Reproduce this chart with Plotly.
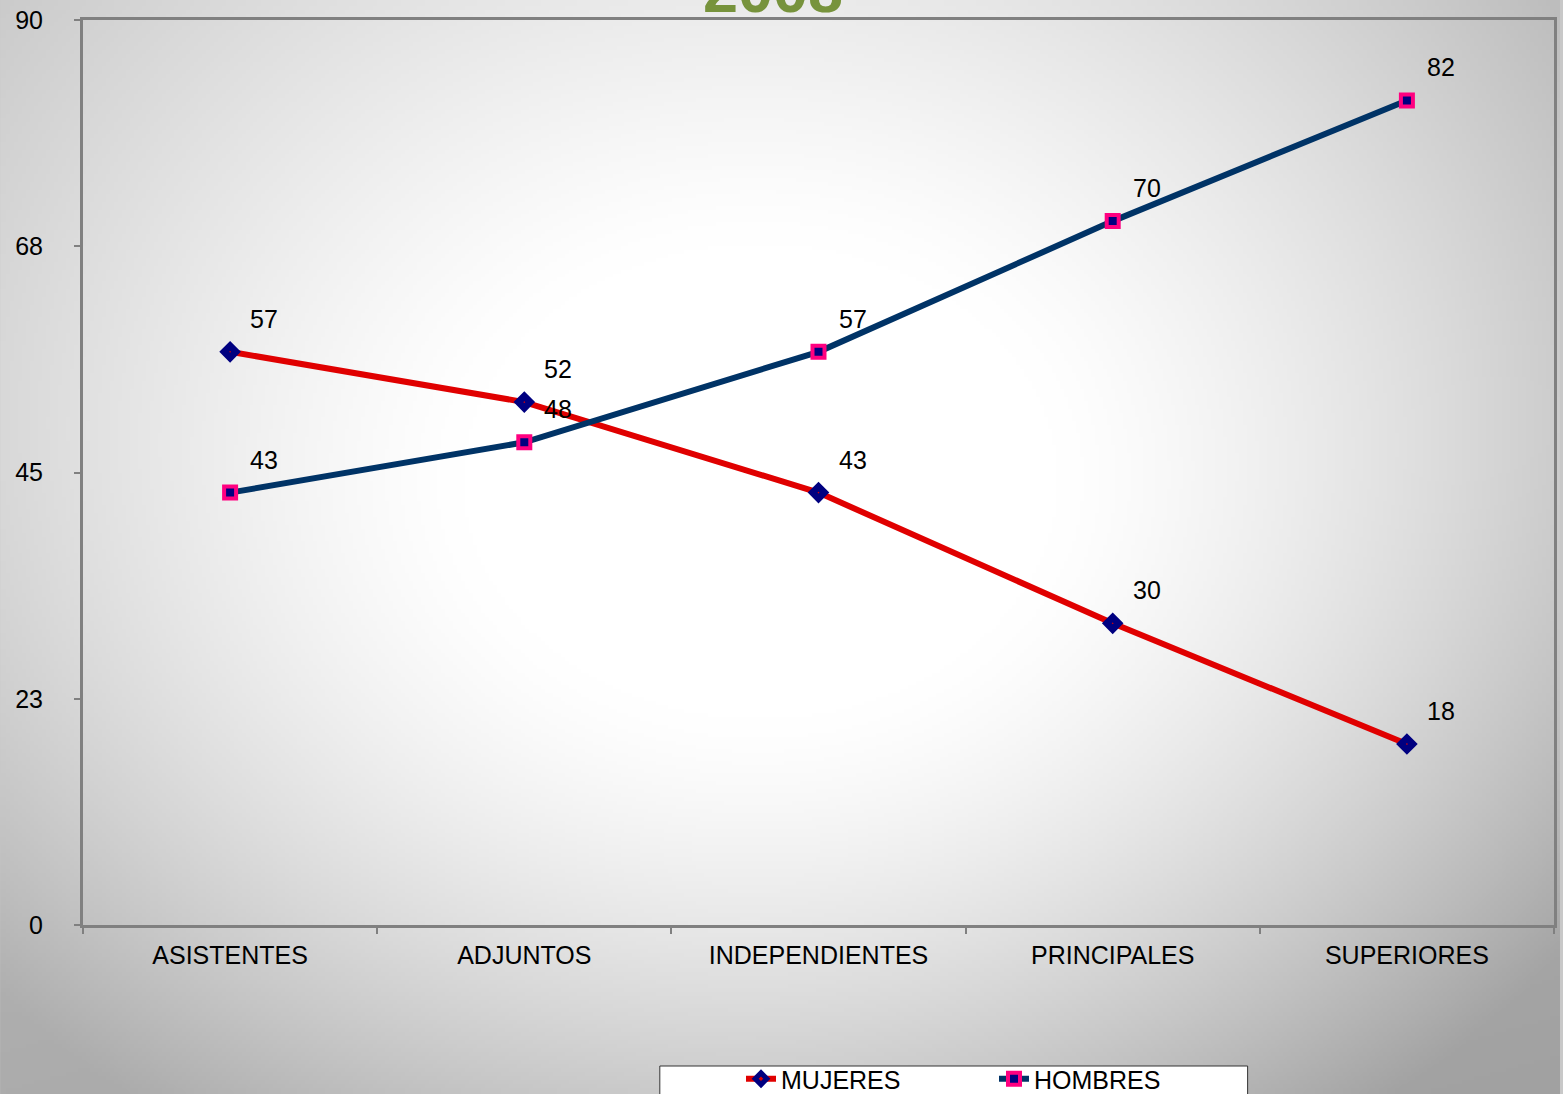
import zlib, struct, base64
import numpy as np
import plotly.graph_objects as go

categories = ["ASISTENTES", "ADJUNTOS", "INDEPENDIENTES", "PRINCIPALES", "SUPERIORES"]
mujeres = [57, 52, 43, 30, 18]
hombres = [43, 48, 57, 70, 82]
ytick_vals = [0, 22.5, 45, 67.5, 90]
ytick_text = ["0", "23", "45", "68", "90"]
title_text = "2008"

W, H = 1563, 1094
ML, MR, MT, MB = 83, 6, 20, 169
PW, PH = W - ML - MR, H - MT - MB

# radial gradient background image (styling only)
s = 4
gw, gh = W // s + 1, H // s + 1
xs = np.arange(gw) * s
ys = np.arange(gh) * s
X, Y = np.meshgrid(xs, ys)
dx = X - 760.0
dy = (Y - 480.0) / 0.8
r = np.sqrt(dx**2 + dy**2)
t = np.clip((r - 300) / (1000 - 300), 0, 1) ** 1.3
val = 255 - t * 90 + t * (35 - 0.007 * X - 0.0256 * Y)
img = np.clip(val, 0, 255).astype(np.uint8)

def png_bytes(a):
    h, w = a.shape
    raw = b"".join(b"\x00" + a[i].tobytes() for i in range(h))
    def chunk(tag, data):
        c = struct.pack(">I", len(data)) + tag + data
        return c + struct.pack(">I", zlib.crc32(tag + data) & 0xffffffff)
    return (b"\x89PNG\r\n\x1a\n" + chunk(b"IHDR", struct.pack(">IIBBBBB", w, h, 8, 0, 0, 0, 0))
            + chunk(b"IDAT", zlib.compress(raw, 9)) + chunk(b"IEND", b""))

src = "data:image/png;base64," + base64.b64encode(png_bytes(img)).decode()

FONT = "Liberation Sans, Arial, sans-serif"
RED = "#E00000"
NAVY_LINE = "#003366"
NAVY = "#000080"
PINK = "#FF0080"

fig = go.Figure()
fig.add_trace(go.Scatter(
    x=categories, y=mujeres, name="MUJERES", mode="lines+markers",
    line=dict(color=RED, width=6),
    marker=dict(symbol="diamond", size=9, color=RED, line=dict(color=NAVY, width=7)),
))
fig.add_trace(go.Scatter(
    x=categories, y=hombres, name="HOMBRES", mode="lines+markers",
    line=dict(color=NAVY_LINE, width=6),
    marker=dict(symbol="square", size=12, color=NAVY, line=dict(color=PINK, width=4)),
))

annotations = []
for series in (mujeres, hombres):
    for c, v in zip(categories, series):
        annotations.append(dict(x=c, y=v, xref="x", yref="y", text=str(v), showarrow=False,
                                xshift=34, yshift=33, font=dict(family=FONT, size=25, color="black")))
annotations.append(dict(x=(774 - ML) / PW, y=1, xref="paper", yref="paper", text="<b>%s</b>" % title_text,
                        showarrow=False, yanchor="bottom", yshift=-7,
                        font=dict(family=FONT, size=63, color="#77933C")))

fig.update_layout(
    width=W, height=H,
    margin=dict(l=ML, r=MR, t=MT, b=MB, pad=0),
    paper_bgcolor="#c8c8c8", plot_bgcolor="rgba(0,0,0,0)",
    font=dict(family=FONT, size=25, color="black"),
    images=[dict(source=src, xref="paper", yref="paper", x=-ML / PW, y=1 + MT / PH,
                 sizex=W / PW, sizey=H / PH, sizing="stretch", layer="below", xanchor="left", yanchor="top")],
    annotations=annotations,
    shapes=[dict(type="rect", xref="paper", yref="paper",
                 x0=(661 - ML) / PW, x1=(1250 - ML) / PW,
                 y0=-(1066 - MT - PH) / PH, y1=-(1120 - MT - PH) / PH,
                 fillcolor="white", line=dict(color="#333333", width=1), layer="below")],
    legend=dict(orientation="h", xref="container", x=741 / W, xanchor="left",
                yref="container", y=1 - 1056 / H, yanchor="top",
                bgcolor="rgba(0,0,0,0)", borderwidth=0, entrywidth=208, entrywidthmode="pixels",
                font=dict(family=FONT, size=25, color="black")),
    showlegend=True,
)
fig.update_xaxes(type="category", range=[-0.5, 4.5], showline=True, linecolor="#808080", linewidth=3,
                 mirror=True, ticks="outside", tickson="boundaries", ticklen=6, tickwidth=2,
                 tickcolor="#808080", showgrid=False, zeroline=False,
                 tickfont=dict(family=FONT, size=25, color="black"), ticklabelstandoff=6)
fig.update_yaxes(range=[0, 90], tickvals=ytick_vals, ticktext=ytick_text, showline=True, linecolor="#808080",
                 linewidth=3, mirror=True, ticks="outside", ticklen=6, tickwidth=2, tickcolor="#808080",
                 showgrid=False, zeroline=False, tickfont=dict(family=FONT, size=25, color="black"),
                 ticklabelstandoff=26)

fig.write_html("out.html", config={"displayModeBar": False},
               post_script="document.body.style.margin='0';document.body.style.overflow='hidden';")
